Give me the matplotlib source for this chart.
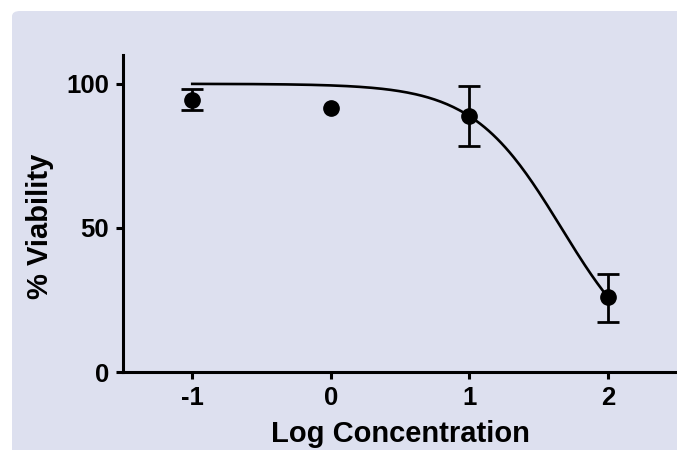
import numpy as np
import matplotlib.pyplot as plt
from matplotlib.patches import FancyBboxPatch

plt.rcParams['font.family'] = ['Liberation Sans', 'DejaVu Sans']
plt.rcParams['font.weight'] = 'bold'
plt.rcParams['axes.unicode_minus'] = False

# Mean viability with error bars
log_conc = [-1, 0, 1, 2]
viability = [94.5, 91.6, 88.8, 25.9]
err_low = [3.5, 0.0, 10.4, 8.4]
err_high = [3.8, 0.0, 10.6, 8.2]

# Fitted dose-response curve (4-parameter logistic)
fit_top = 100.0
fit_bottom = 0.0
fit_log_ic50 = 1.665
fit_hill = 1.354

x_ticks = [-1, 0, 1, 2]
y_ticks = [0, 50, 100]

bg_color = "#DDE0EF"

fig = plt.figure(figsize=(6.77, 4.5), dpi=100)
fig.patch.set_facecolor("white")

# Lavender panel behind the graph
panel = FancyBboxPatch((12 / 677, -0.05), 1.05, 1 - 11 / 450 + 0.05,
                       boxstyle="round,pad=0,rounding_size=0.012",
                       transform=fig.transFigure, facecolor=bg_color,
                       edgecolor="none", zorder=-10)
fig.patches.append(panel)

ax = fig.add_axes([123 / 677, 1 - 372 / 450, 1 - 123 / 677, (372 - 55) / 450])
ax.set_facecolor("none")
ax.set_zorder(1)

xs = np.linspace(-1, 2, 200)
curve = fit_bottom + (fit_top - fit_bottom) / (1 + 10 ** ((xs - fit_log_ic50) * fit_hill))
ax.plot(xs, curve, color="black", lw=1.9, zorder=2)

# Error bars only where there is a spread (the 0 point has none shown)
has_err = [i for i in range(len(log_conc)) if err_low[i] > 0 or err_high[i] > 0]
ax.errorbar([log_conc[i] for i in has_err], [viability[i] for i in has_err],
            yerr=[[err_low[i] for i in has_err], [err_high[i] for i in has_err]],
            fmt="none", ecolor="black", elinewidth=2, capsize=8, capthick=2,
            zorder=3)
ax.plot(log_conc, viability, "o", color="black", ms=11, zorder=4)

ax.set_xlim(-1.5, 2.5)
ax.set_ylim(0, 110)
ax.set_xticks(x_ticks)
ax.set_yticks(y_ticks)
ax.tick_params(axis="both", direction="out", length=5, width=2.2,
               labelsize=18.5, pad=5)

for side in ["top", "right"]:
    ax.spines[side].set_visible(False)
for side in ["left", "bottom"]:
    ax.spines[side].set_linewidth(2.2)

ax.set_xlabel("Log Concentration", fontsize=21, fontweight="bold", labelpad=7)
ax.set_ylabel("% Viability", fontsize=21, fontweight="bold")
ax.yaxis.set_label_coords(-0.124, 0.46)

plt.savefig("out.png", dpi=100)
